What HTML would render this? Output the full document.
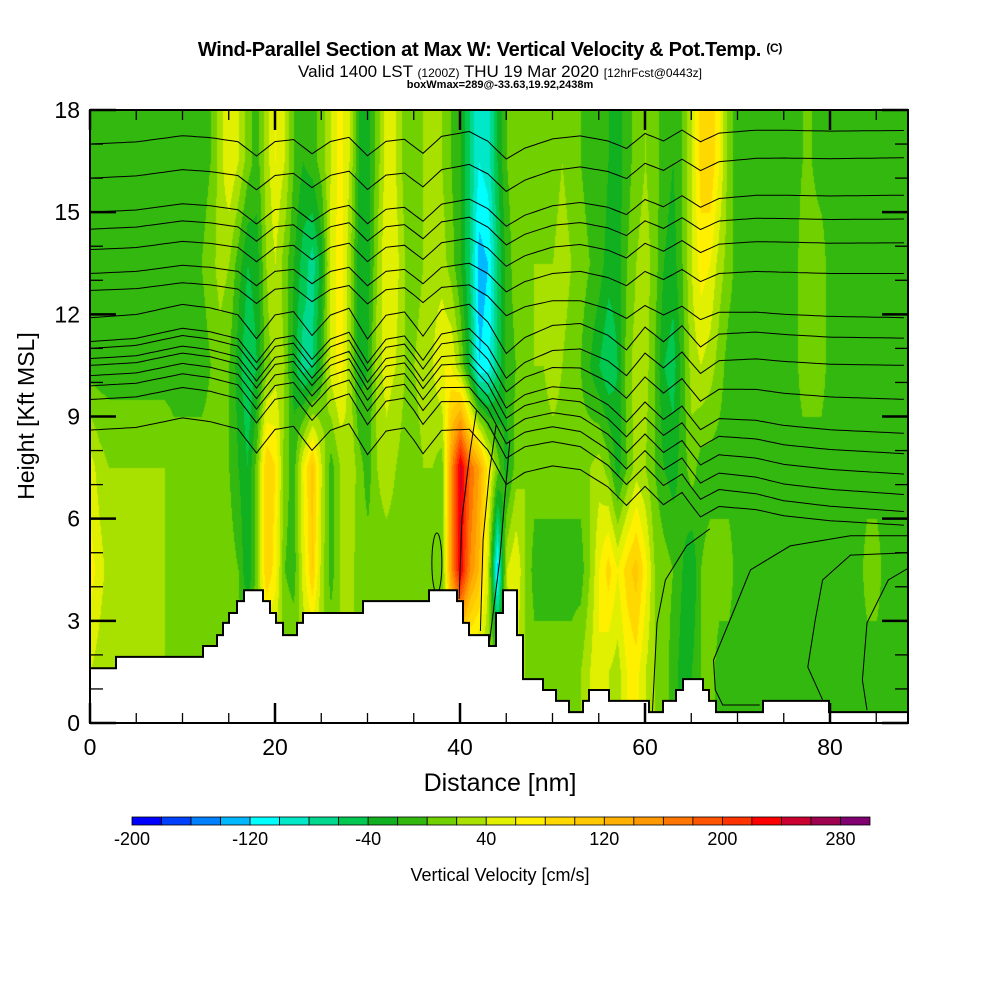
<!DOCTYPE html>
<html><head><meta charset="utf-8">
<style>
html,body{margin:0;padding:0;background:#fff;}
#wrap{position:relative;width:1000px;height:1000px;overflow:hidden;background:#fff;font-family:"Liberation Sans",sans-serif;}
canvas{position:absolute;left:90px;top:110px;}
svg{position:absolute;left:0;top:0;}
</style></head>
<body>
<div id="wrap">
<canvas id="field" width="818" height="613"></canvas>
<svg id="ov" width="1000" height="1000">
  <text x="490" y="56" text-anchor="middle" font-size="20" font-weight="bold" letter-spacing="-0.3">Wind-Parallel Section at Max W: Vertical Velocity &amp; Pot.Temp. <tspan font-size="12" dy="-4">(C)</tspan></text>
  <text x="500" y="77" text-anchor="middle" font-size="17">Valid 1400 LST <tspan font-size="12">(1200Z)</tspan> THU 19 Mar 2020 <tspan font-size="12">[12hrFcst@0443z]</tspan></text>
  <text x="500" y="88" text-anchor="middle" font-size="11" font-weight="bold">boxWmax=289@-33.63,19.92,2438m</text>
  <g id="contours" fill="none" stroke="#000" stroke-width="1"></g>
  <path id="terrain" fill="#fff" stroke="#000" stroke-width="2"/>
  <g id="axes"></g>
  <rect x="90" y="110" width="818" height="613" fill="none" stroke="#000" stroke-width="2"/>
  <text x="500" y="791" text-anchor="middle" font-size="25">Distance [nm]</text>
  <text transform="translate(34,416) rotate(-90)" text-anchor="middle" font-size="23">Height [Kft MSL]</text>
  <g id="cbar"></g>
  <text x="500" y="881" text-anchor="middle" font-size="18">Vertical Velocity [cm/s]</text>
</svg>
</div>
<script>
// ---- data ----
const rowKft = [1.5,4.5,7.5,10.5,13.5,16.5];
const w16 = [-10,-10,-10,-10,-10,-10,-10,-10,-10,-10,-10,-10,-10,0,30,60,40,10,-10,30,60,40,0,-20,-10,10,40,70,40,-20,-30,10,50,40,10,0,20,30,20,0,-20,-60,-100,-90,-40,0,10,20,10,0,10,20,10,0,-10,0,-20,-30,-10,10,20,10,-10,-20,0,40,90,100,60,10,-10,-10,-10,-10,-10,-10,-10,0,0,-10,-10,-10,-10,-10,-10,-10,-10,-10,-10];
const w13 = [-10,-10,-10,-10,-10,-10,-10,-10,-10,-10,-10,-10,0,10,30,20,-10,-40,-30,20,40,10,-20,-50,-70,-30,50,70,30,-30,-30,20,60,50,20,10,20,30,30,10,-20,-60,-130,-120,-60,-10,10,20,20,20,20,30,20,10,0,-10,-30,-30,0,20,30,10,-20,-30,0,40,70,60,30,10,-10,-10,-10,-10,-10,-10,-10,10,10,10,-10,-10,-10,-10,-10,-10,-10,-10,-10];
const w10 = [-10,-10,-10,-10,-10,-10,-10,-10,-10,-10,-10,-10,-10,0,10,0,-30,-60,-40,10,30,20,-30,-70,-60,-10,50,70,30,-30,-20,30,50,40,20,20,30,40,60,60,20,-40,-120,-110,-60,-10,0,10,20,20,30,20,10,0,-20,-40,-60,-40,10,30,30,0,-40,-50,-10,30,40,30,10,-10,-10,-10,-10,-10,-10,-10,-10,10,10,10,-10,-10,-10,-10,-10,-10,-10,-10,-10];
const w7 = [50,30,20,20,20,20,20,20,20,10,10,10,10,10,10,0,-20,-40,10,100,80,10,-10,60,110,40,-10,20,40,10,-10,20,30,20,10,10,20,20,10,150,250,180,140,70,10,-30,10,20,10,10,10,10,10,10,20,30,10,-30,0,30,20,0,-20,-30,-10,10,-10,-10,-10,-10,-10,-10,-10,-10,-10,-10,-10,-10,-10,-10,-10,-10,-10,-10,-10,-10,-10,-10,-10];
const w4 = [70,50,30,20,20,20,20,20,20,10,10,10,10,10,10,10,0,-40,10,100,70,0,-10,50,100,30,-10,20,30,10,10,10,10,10,10,10,10,10,0,150,240,160,120,40,-130,40,60,20,-10,-10,-10,-10,-10,-10,20,60,90,60,90,110,70,20,10,0,-20,-40,0,10,10,10,-10,-10,-10,-10,-10,-10,-10,-10,-10,-10,-10,-10,-10,-10,10,10,-10,-10,-10];
const w1 = [40,30,20,20,20,20,20,20,20,20,20,10,10,10,10,10,10,20,20,20,20,20,20,20,20,20,20,20,20,20,20,20,20,20,20,20,20,20,20,20,20,20,20,20,20,30,40,20,10,10,10,10,10,20,40,60,40,30,60,70,40,20,10,-10,-30,-20,0,10,-10,-10,-10,-10,-10,-10,-10,-10,-10,-10,-10,-10,-10,-10,-10,-10,-10,-10,-10,-10,-10];
const binColors = ["#0000ff","#0040ff","#0080ff","#00b8ff","#00ffff","#00e8c8","#00d890","#00c850","#10b020","#33b810","#70d000","#a8e000","#e0f000","#fff000","#ffd800","#ffc800","#ffb000","#ff9900","#ff7700","#ff5500","#ff3300","#ff0000","#cc0030","#a00050","#800070"];
const cbarLabels = [-200,-120,-40,40,120,200,280];
const xTicks = [0,20,40,60,80];
const yTicks = [0,3,6,9,12,15,18];
const thetaLeft  = [17.0,16.0,15.0,14.5,13.9,13.2,12.7,11.9,11.2,11.0,10.7,10.5,10.2,9.9,9.5,8.6];
const thetaRight = [17.4,16.6,15.5,14.8,14.1,13.2,11.9,11.3,10.5,9.5,8.5,7.9,7.3,6.7,6.2,5.8];
const wigX = [0,5,10,13,16,18,20,22,24,26,28,30,32,34,36,38,41,43,45,47,50,53,56,58,60,62,64,66,68,72,80,88.5];
const wigD = [0,0.1,0.4,0.3,0.1,-0.6,0.1,0.2,-0.5,0.1,0.3,-0.6,0.1,0.2,-0.5,0.3,0.5,0,-0.9,-0.4,0,0.1,-0.2,-0.6,0.1,-0.3,0.2,-0.4,0,0.1,0,0];
const blendX = [0,35,45,55,65,75,88.5];
const blendS = [0,0.05,0.25,0.5,0.75,0.92,1];
const curveC2 = [[60.8,0.32],[61.3,2.94],[62.2,4.2],[64.5,5.2],[67,5.7]];
const curveC4 = [[72.4,0.53],[68.4,0.53],[67.6,0.97],[67.4,1.85],[69.5,3.23],[71.4,4.5],[75.7,5.2],[82.2,5.5],[88.5,5.5]];
const curveC5 = [[79.2,0.68],[77.6,1.64],[78.4,3.02],[79.2,4.2],[82.2,4.93],[88.5,5.0]];
const curveC6 = [[84,0.38],[83.5,1.26],[84,2.94],[86.3,4.2],[88.5,4.55]];
const curveL1 = [[39.9,3.64],[40.2,6.0],[41.1,8.0],[41.8,9.2]];
const curveL2 = [[42.2,2.7],[42.5,5.4],[43.2,7.4],[43.9,8.75]];
const curveL3 = [[43.2,2.4],[44.3,4.8],[44.9,6.8],[45.4,8.3]];
const terrainNm  = [0,2.81,12.22,13.73,14.38,15.03,15.89,16.65,18.70,19.46,20.11,20.86,22.38,23.03,29.51,36.65,39.68,40.32,40.97,43.14,43.89,44.65,46.16,46.81,48.97,50.38,51.78,53.30,53.95,56.11,60.43,61.95,63.35,64.11,66.27,66.92,67.68,72.76,79.89];
const terrainKft = [1.61,1.94,2.26,2.58,2.94,3.23,3.58,3.90,3.58,3.23,2.94,2.58,2.94,3.23,3.58,3.90,3.58,2.94,2.58,2.26,3.23,3.90,2.58,1.29,0.97,0.65,0.32,0.65,0.97,0.65,0.32,0.65,0.97,1.29,0.97,0.65,0.32,0.65,0.32];

// ---- scales ----
const X0=90, X1=908, Y0=723, Y1=110, XMAX=(908-90)/9.25;
const sx = nm => X0 + nm*9.25;
const sy = k => Y0 - k*(Y0-Y1)/18;
const NS="http://www.w3.org/2000/svg";
function el(tag, attrs, parent){const e=document.createElementNS(NS,tag);for(const k in attrs)e.setAttribute(k,attrs[k]);parent.appendChild(e);return e;}
function lerpArr(xs, ys, x){ if(x<=xs[0])return ys[0]; for(let i=1;i<xs.length;i++){ if(x<=xs[i]){const f=(x-xs[i-1])/(xs[i]-xs[i-1]);return ys[i-1]+f*(ys[i]-ys[i-1]);}} return ys[ys.length-1]; }

// ---- field ----
const rows=[w1,w4,w7,w10,w13,w16];
const cv=document.getElementById('field'), ctx=cv.getContext('2d');
const img=ctx.createImageData(818,613);
const rgbCache=binColors.map(h=>[parseInt(h.substr(1,2),16),parseInt(h.substr(3,2),16),parseInt(h.substr(5,2),16)]);
function colVal(r, nm){ let i=Math.floor(nm); if(i>=r.length-1) return r[r.length-1]; const f=nm-i; return r[i]*(1-f)+r[i+1]*f; }
for(let px=0;px<818;px++){
  const nm=px/9.25;
  const colVals=rows.map(r=>colVal(r,nm));
  for(let py=0;py<613;py++){
    const k=(613-py)*18/613;
    const v=lerpArr(rowKft,colVals,k);
    let bi=Math.floor((v+200)/20); if(bi<0)bi=0; if(bi>24)bi=24;
    const c=rgbCache[bi], o=(py*818+px)*4;
    img.data[o]=c[0];img.data[o+1]=c[1];img.data[o+2]=c[2];img.data[o+3]=255;
  }
}
ctx.putImageData(img,0,0);

// ---- contours ----
const cg=document.getElementById('contours');
thetaLeft.forEach((L,j)=>{
  const R=thetaRight[j]; const amp = L>12.5 ? 0.6 : 1.0;
  let d='';
  for(let x=0;x<=XMAX+0.01;x+=0.5){
    const s=lerpArr(blendX,blendS,x);
    const h=L+(R-L)*s+lerpArr(wigX,wigD,x)*amp;
    d+=(x===0?'M':'L')+sx(x).toFixed(1)+','+sy(h).toFixed(1);
  }
  const p=el('path',{d:d},cg);
  
  
});
[curveC2,curveC4,curveC5,curveC6,curveL1,curveL2,curveL3].forEach(c=>{
  const d=c.map((p,i)=>(i?'L':'M')+sx(p[0]).toFixed(1)+','+sy(p[1]).toFixed(1)).join('');
  const p=el('path',{d:d},cg);
  
  
});
const loop=el('ellipse',{cx:sx(37.5),cy:sy(4.7),rx:5,ry:30},cg);



// ---- terrain ----
let td='M'+X0+','+Y0;
for(let i=0;i<terrainNm.length;i++){
  const x0=sx(terrainNm[i]), x1= i+1<terrainNm.length? sx(terrainNm[i+1]) : X1, y=sy(terrainKft[i]);
  td+='L'+x0.toFixed(1)+','+y.toFixed(1)+'L'+x1.toFixed(1)+','+y.toFixed(1);
}
td+='L'+X1+','+Y0+'Z';
document.getElementById('terrain').setAttribute('d',td);

// ---- axes ----
const ax=document.getElementById('axes');
for(let n=0;n<=88;n+=5){
  const major = n%20===0, len = major?20:10, x=sx(n);
  const t1=el('line',{x1:x,y1:Y0,x2:x,y2:Y0-len,stroke:'#000','stroke-width':major?2.5:1.3},ax);
   
  const t2=el('line',{x1:x,y1:Y1,x2:x,y2:Y1+len,stroke:'#000','stroke-width':major?2.5:1.3},ax);
   
}
for(let k=0;k<=18;k++){
  const major=k%3===0, len=major?26:13, y=sy(k);
  const t1=el('line',{x1:X0,y1:y,x2:X0+len,y2:y,stroke:'#000','stroke-width':major?2.5:1.3},ax);
   
  const t2=el('line',{x1:X1,y1:y,x2:X1-len,y2:y,stroke:'#000','stroke-width':major?2.5:1.3},ax);
   
}
xTicks.forEach(v=>{
  const t=el('text',{x:sx(v),y:755,'text-anchor':'middle','font-size':23},ax); t.textContent=v;
   
});
yTicks.forEach(v=>{
  const t=el('text',{x:80,y:sy(v)+8,'text-anchor':'end','font-size':23},ax); t.textContent=v;
   
});

// ---- colorbar ----
const cb=document.getElementById('cbar'); const bw=738/25;
binColors.forEach((c,i)=>{
  const r=el('rect',{x:132+i*bw,y:817,width:bw,height:8,fill:c,stroke:'#000','stroke-width':0.8},cb);
   
});
cbarLabels.forEach(v=>{
  const t=el('text',{x:132+(v+200)/20*bw,y:845,'text-anchor':'middle','font-size':18},cb); t.textContent=v;
   
});
</script>
</body></html>
